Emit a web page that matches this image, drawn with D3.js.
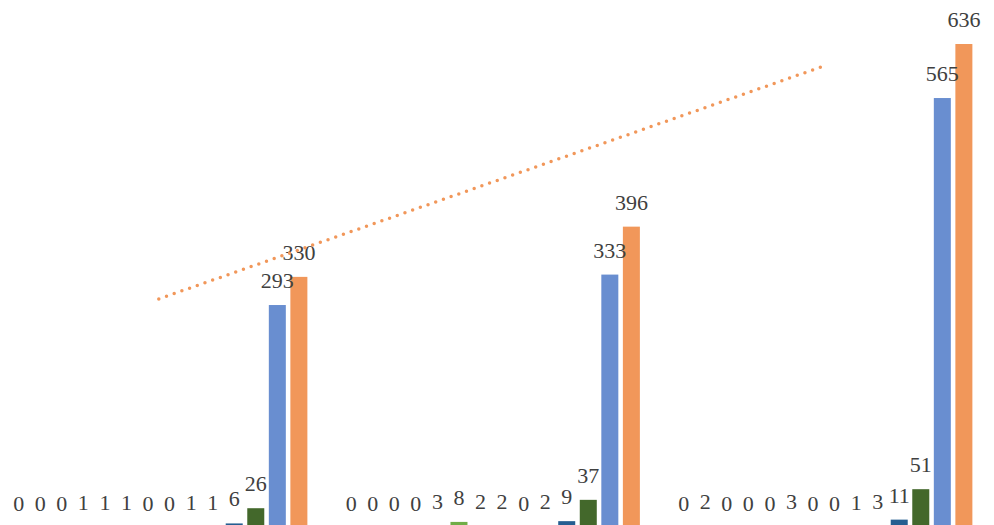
<!DOCTYPE html>
<html>
<head>
<meta charset="utf-8">
<script src="https://cdn.jsdelivr.net/npm/d3@7"></script>
<style>
  html, body { margin: 0; padding: 0; background: #fff; overflow: hidden; }
  svg { display: block; }
</style>
</head>
<body>
<svg id="chart" width="994" height="525"></svg>
<script>
const categories = ["Group 1", "Group 2", "Group 3"];
const seriesNames = ["S1","S2","S3","S4","S5","S6","S7","S8","S9","S10","S11","S12","S13","S14"];
const s1  = [0, 0, 0];
const s2  = [0, 0, 2];
const s3  = [0, 0, 0];
const s4  = [1, 0, 0];
const s5  = [1, 3, 0];
const s6  = [1, 8, 3];
const s7  = [0, 2, 0];
const s8  = [0, 2, 0];
const s9  = [1, 0, 1];
const s10 = [1, 2, 3];
const s11 = [6, 9, 11];
const s12 = [26, 37, 51];
const s13 = [293, 333, 565];
const s14 = [330, 396, 636];
const seriesValues = [s1,s2,s3,s4,s5,s6,s7,s8,s9,s10,s11,s12,s13,s14];
const colors = ["#4472C4","#ED7D31","#A5A5A5","#FFC000","#5B9BD5","#70AD47","#264478","#9E480E","#636363","#997300","#255E91","#43682B","#698ED0","#F1975A"];

const svg = d3.select("#chart");
const W = 994, H = 525;
const baseY = 528;
const pxPerUnit = 0.761;

const y = d3.scaleLinear().domain([0, 700]).range([baseY, baseY - 700 * pxPerUnit]);
const groupStep = 332.5;
const firstCenter = 158.8;
const x0 = d3.scaleBand().domain(categories)
  .range([firstCenter - groupStep / 2, firstCenter + groupStep * 2.5])
  .paddingInner(0).paddingOuter(0);
const x1 = d3.scaleBand().domain(seriesNames)
  .range([0, groupStep]).paddingInner(0.211).paddingOuter(0.82);

const data = [];
categories.forEach((c, ci) => {
  seriesNames.forEach((s, si) => {
    data.push({cat: c, ser: s, si: si, v: seriesValues[si][ci]});
  });
});

const g = svg.append("g");
g.selectAll("rect.bar").data(data).join("rect")
  .attr("class", "bar")
  .attr("x", d => x0(d.cat) + x1(d.ser))
  .attr("width", x1.bandwidth())
  .attr("y", d => y(d.v))
  .attr("height", d => y(0) - y(d.v))
  .attr("fill", d => colors[d.si]);

g.selectAll("text.lbl").data(data).join("text")
  .attr("class", "lbl")
  .attr("x", d => x0(d.cat) + x1(d.ser) + x1.bandwidth() / 2)
  .attr("y", d => y(d.v) - 17)
  .attr("text-anchor", "middle")
  .attr("font-family", "'Liberation Serif', 'Times New Roman', serif")
  .attr("font-size", 22)
  .attr("fill", "#404040")
  .text(d => d.v);

// Linear trendline for last series
const xs = categories.map((c, i) => i + 1);
const ys = s14;
const mx = d3.mean(xs), my = d3.mean(ys);
const slope = d3.sum(xs.map((xv, i) => (xv - mx) * (ys[i] - my))) / d3.sum(xs.map(xv => (xv - mx) ** 2));
const intercept = my - slope * mx;
const trendPts = categories.map((c, i) => [x0(c) + x0.bandwidth() / 2, y(intercept + slope * (i + 1))]);
g.append("path")
  .attr("d", d3.line()([trendPts[0], trendPts[trendPts.length - 1]]))
  .attr("fill", "none")
  .attr("stroke", "#F1975A")
  .attr("stroke-width", 3.5)
  .attr("stroke-linecap", "round")
  .attr("stroke-dasharray", "0 8.15");
</script>
</body>
</html>
